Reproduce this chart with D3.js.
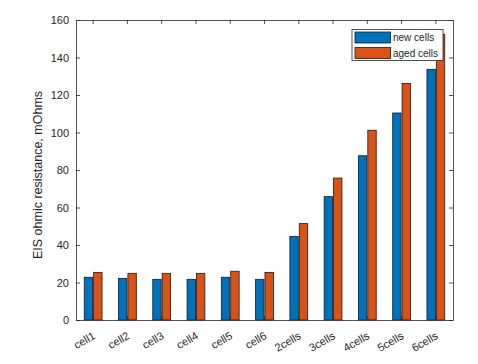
<!DOCTYPE html>
<html>
<head>
<meta charset="utf-8">
<script src="https://cdn.jsdelivr.net/npm/d3@7"></script>
<style>
  body { margin: 0; background: #fff; }
  svg { font-family: "Liberation Sans", Arial, sans-serif; }
</style>
</head>
<body>
<div id="chart"></div>
<script>
let categories = ["cell1", "cell2", "cell3", "cell4", "cell5", "cell6", "2cells", "3cells", "4cells", "5cells", "6cells"];
let newCells = [22.8, 22.2, 21.7, 21.7, 22.8, 21.7, 44.6, 65.8, 87.6, 110.4, 133.7];
let agedCells = [25.4, 24.9, 24.9, 24.9, 26.0, 25.4, 51.4, 75.7, 101.2, 126.2, 152.4];
let seriesNames = ["new cells", "aged cells"];
let yTicks = [0, 20, 40, 60, 80, 100, 120, 140, 160];

let options = {
  width: 478,
  height: 364,
  margins: { top: 20, right: 25, left: 76, bottom: 44 },
  colors: ["#0072BD", "#D95319"],
  axisColor: "#262626"
};

let plotW = options.width - options.margins.left - options.margins.right;
let plotH = options.height - options.margins.top - options.margins.bottom;

let svg = d3.select("#chart")
  .append("svg")
  .attr("width", options.width)
  .attr("height", options.height);

let g = svg.append("g")
  .attr("transform", `translate(${options.margins.left},${options.margins.top})`);

let xScale = d3.scaleBand()
  .domain(categories)
  .range([0, plotW]);

let yScale = d3.scaleLinear()
  .domain([0, 160])
  .range([plotH, 0]);

let barW = 8.4;
let series = [newCells, agedCells];

// bars
series.forEach((vals, s) => {
  g.selectAll(".bar" + s)
    .data(vals)
    .enter()
    .append("rect")
    .attr("x", (d, i) => xScale(categories[i]) + xScale.bandwidth() / 2 + (s === 0 ? -barW - 0.5 : 0.5))
    .attr("y", d => yScale(d))
    .attr("width", barW)
    .attr("height", d => plotH - yScale(d))
    .attr("fill", options.colors[s])
    .attr("stroke", "#1a1a1a")
    .attr("stroke-width", 0.8);
});

// y axis (left)
let yAxis = g.append("g")
  .call(d3.axisLeft(yScale).tickValues(yTicks).tickSizeInner(-4).tickSizeOuter(0).tickPadding(7));

// y axis (right)
let yAxisR = g.append("g")
  .attr("transform", `translate(${plotW},0)`)
  .call(d3.axisRight(yScale).tickValues(yTicks).tickSizeInner(-4).tickSizeOuter(0).tickFormat(""));

// x axis (bottom)
let xAxis = g.append("g")
  .attr("transform", `translate(0,${plotH})`)
  .call(d3.axisBottom(xScale).tickSizeInner(-4).tickSizeOuter(0));

// x axis (top)
let xAxisT = g.append("g")
  .call(d3.axisTop(xScale).tickSizeInner(-4).tickSizeOuter(0).tickFormat(""));

[yAxis, yAxisR, xAxis, xAxisT].forEach(a => {
  a.select(".domain").attr("stroke", options.axisColor).attr("stroke-width", 0.8);
  a.selectAll(".tick line").attr("stroke", options.axisColor).attr("stroke-width", 0.8);
  a.selectAll("text").attr("fill", options.axisColor).style("font-size", "11px");
});

xAxis.selectAll("text")
  .attr("text-anchor", "end")
  .attr("y", 0)
  .attr("dy", 0)
  .attr("transform", "translate(3,18) rotate(-30)");

// y label
svg.append("text")
  .text("EIS ohmic resistance, mOhms")
  .attr("transform", "translate(42,175) rotate(-90)")
  .attr("text-anchor", "middle")
  .attr("fill", options.axisColor)
  .style("font-size", "12.5px");

// legend
let legend = svg.append("g")
  .attr("transform", "translate(352,29.5)");

legend.append("rect")
  .attr("width", 91)
  .attr("height", 31)
  .attr("fill", "#fff")
  .attr("stroke", options.axisColor)
  .attr("stroke-width", 0.8);

seriesNames.forEach((name, s) => {
  legend.append("rect")
    .attr("x", 3)
    .attr("y", 2.5 + s * 15.5)
    .attr("width", 35.5)
    .attr("height", 11)
    .attr("fill", options.colors[s])
    .attr("stroke", "#1a1a1a")
    .attr("stroke-width", 0.8);
  legend.append("text")
    .text(name)
    .attr("x", 41)
    .attr("y", 11.5 + s * 15.5)
    .attr("fill", options.axisColor)
    .style("font-size", "10px");
});
</script>
</body>
</html>
